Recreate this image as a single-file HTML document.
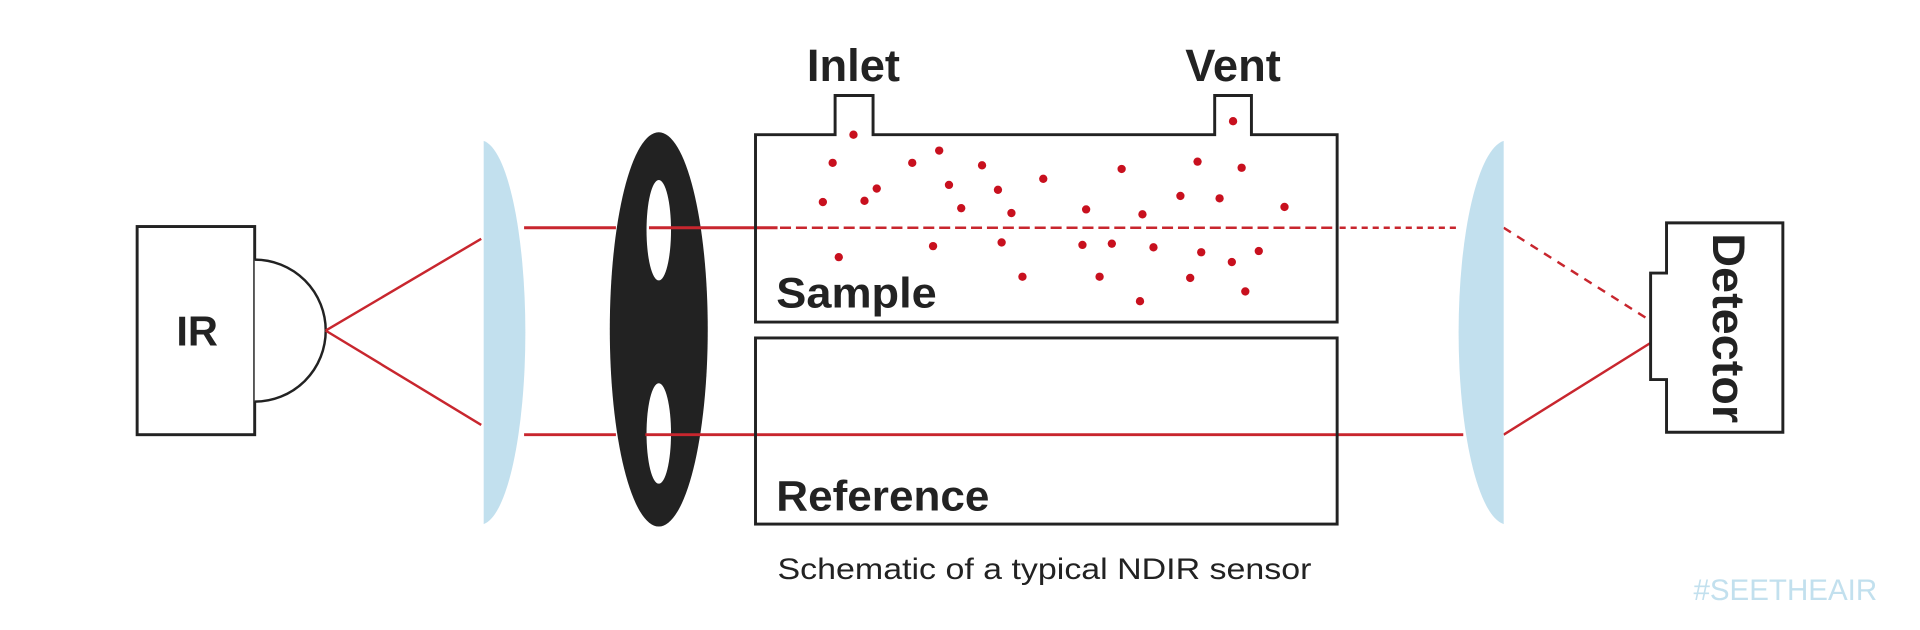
<!DOCTYPE html>
<html><head><meta charset="utf-8"><style>
html,body{margin:0;padding:0;background:#fff;}
svg{display:block;}
text{font-family:"Liberation Sans",sans-serif;}
</style></head><body>
<svg width="1920" height="630" viewBox="0 0 1568 514.5" preserveAspectRatio="none" xmlns="http://www.w3.org/2000/svg">
<rect width="1568" height="515" fill="#fff"/>
<!-- IR source -->
<rect x="112" y="185" width="96" height="170" fill="#fff" stroke="#222" stroke-width="2.4"/>
<path d="M208,212 A58,58 0 0 1 208,328" fill="#fff" stroke="#222" stroke-width="2"/>
<text x="161" y="282" font-size="34" font-weight="bold" text-anchor="middle" fill="#222">IR</text>
<!-- beams to lens -->
<line x1="266" y1="270" x2="393" y2="195" stroke="#c8262e" stroke-width="2"/>
<line x1="266" y1="270" x2="393" y2="347" stroke="#c8262e" stroke-width="2"/>
<!-- left lens -->
<path d="M395,115 A37,157 0 0 1 395,428 Z" fill="#c2e0ee"/>
<!-- chopper -->
<ellipse cx="538" cy="269" rx="40" ry="161" fill="#222"/>
<ellipse cx="538" cy="188" rx="10" ry="41" fill="#fff"/>
<ellipse cx="538" cy="354" rx="10" ry="41" fill="#fff"/>
<!-- top beam -->
<line x1="428" y1="186" x2="503" y2="186" stroke="#c8262e" stroke-width="2.4"/>
<line x1="530" y1="186" x2="635" y2="186" stroke="#c8262e" stroke-width="2.4"/>
<line x1="637" y1="186" x2="1092" y2="186" stroke="#c8262e" stroke-width="2" stroke-dasharray="9 4"/>
<line x1="1094" y1="186" x2="1192" y2="186" stroke="#c8262e" stroke-width="2" stroke-dasharray="5 4"/>
<line x1="1228" y1="186" x2="1348" y2="262" stroke="#c8262e" stroke-width="2" stroke-dasharray="7 6"/>
<!-- bottom beam -->
<line x1="428" y1="355" x2="503" y2="355" stroke="#c8262e" stroke-width="2.4"/>
<line x1="527" y1="355" x2="1195" y2="355" stroke="#c8262e" stroke-width="2.4"/>
<line x1="1228" y1="355" x2="1348" y2="280" stroke="#c8262e" stroke-width="2"/>
<!-- sample chamber -->
<path d="M617,110 H682 V78 H713 V110 H992 V78 H1022 V110 H1092 V263 H617 Z" fill="none" stroke="#222" stroke-width="2.4"/>
<text x="697" y="66" font-size="37" font-weight="bold" text-anchor="middle" fill="#222">Inlet</text>
<text x="1007" y="66" font-size="37" font-weight="bold" text-anchor="middle" fill="#222">Vent</text>
<text x="634" y="251" font-size="35" font-weight="bold" fill="#222" textLength="131" lengthAdjust="spacingAndGlyphs">Sample</text>
<g fill="#c8101e">
<circle cx="697" cy="110" r="3.4"/><circle cx="680" cy="133" r="3.4"/><circle cx="745" cy="133" r="3.4"/><circle cx="767" cy="123" r="3.4"/><circle cx="802" cy="135" r="3.4"/><circle cx="716" cy="154" r="3.4"/><circle cx="706" cy="164" r="3.4"/><circle cx="672" cy="165" r="3.4"/><circle cx="775" cy="151" r="3.4"/><circle cx="815" cy="155" r="3.4"/><circle cx="852" cy="146" r="3.4"/><circle cx="916" cy="138" r="3.4"/><circle cx="978" cy="132" r="3.4"/><circle cx="1014" cy="137" r="3.4"/><circle cx="964" cy="160" r="3.4"/><circle cx="996" cy="162" r="3.4"/><circle cx="1049" cy="169" r="3.4"/><circle cx="785" cy="170" r="3.4"/><circle cx="826" cy="174" r="3.4"/><circle cx="887" cy="171" r="3.4"/><circle cx="933" cy="175" r="3.4"/><circle cx="685" cy="210" r="3.4"/><circle cx="762" cy="201" r="3.4"/><circle cx="818" cy="198" r="3.4"/><circle cx="884" cy="200" r="3.4"/><circle cx="908" cy="199" r="3.4"/><circle cx="942" cy="202" r="3.4"/><circle cx="981" cy="206" r="3.4"/><circle cx="1028" cy="205" r="3.4"/><circle cx="1006" cy="214" r="3.4"/><circle cx="835" cy="226" r="3.4"/><circle cx="898" cy="226" r="3.4"/><circle cx="972" cy="227" r="3.4"/><circle cx="1017" cy="238" r="3.4"/><circle cx="931" cy="246" r="3.4"/><circle cx="1007" cy="99" r="3.4"/>
</g>
<!-- reference chamber -->
<rect x="617" y="276" width="475" height="152" fill="none" stroke="#222" stroke-width="2.4"/>
<text x="634" y="417" font-size="35" font-weight="bold" fill="#222" textLength="174" lengthAdjust="spacingAndGlyphs">Reference</text>
<!-- right lens -->
<path d="M1228,115 A40,157 0 0 0 1228,428 Z" fill="#c2e0ee"/>
<!-- detector -->
<path d="M1361,182 H1456 V353 H1361 V310 H1348 V223 H1361 Z" fill="#fff" stroke="#222" stroke-width="2.4"/>
<text transform="translate(1399,268) rotate(90)" font-size="37" font-weight="bold" text-anchor="middle" fill="#222" textLength="155" lengthAdjust="spacingAndGlyphs">Detector</text>
<!-- caption -->
<text x="853" y="473" font-size="24" text-anchor="middle" fill="#222" textLength="436" lengthAdjust="spacingAndGlyphs">Schematic of a typical NDIR sensor</text>
<text x="1458" y="490" font-size="24" text-anchor="middle" fill="#c2e0ee" textLength="150" lengthAdjust="spacingAndGlyphs">#SEETHEAIR</text>
</svg>
</body></html>
